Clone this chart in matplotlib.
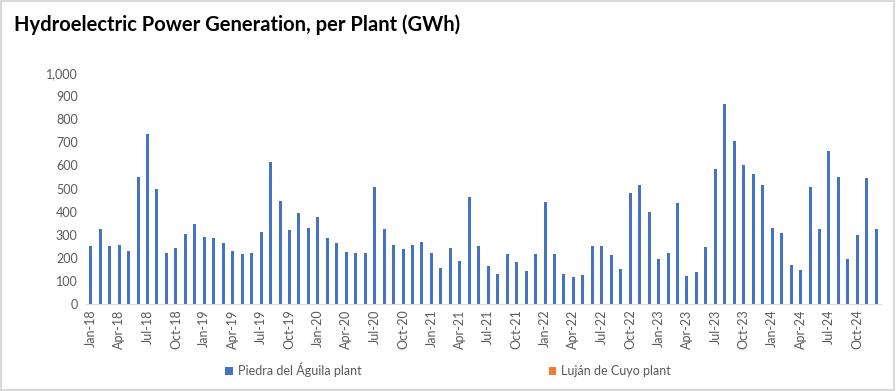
import matplotlib
matplotlib.use("Agg")
import matplotlib.pyplot as plt
from matplotlib.patches import Rectangle
from matplotlib.ticker import FuncFormatter
import numpy as np

plt.rcParams['font.family'] = ['Lato', 'DejaVu Sans']

years = [18, 19, 20, 21, 22, 23, 24]
month_names = ["Jan", "Feb", "Mar", "Apr", "May", "Jun", "Jul", "Aug", "Sep", "Oct", "Nov", "Dec"]
months = [f"{m}-{y}" for y in years for m in month_names]

piedra = [
    250, 326, 252, 257, 231, 550, 737, 499, 222, 244, 304, 345,   # 2018
    291, 287, 266, 231, 215, 222, 310, 613, 447, 320, 395, 329,   # 2019
    377, 284, 266, 224, 219, 219, 508, 326, 257, 237, 257, 268,   # 2020
    221, 157, 242, 186, 465, 250, 166, 131, 215, 183, 144, 215,   # 2021
    442, 215, 128, 118, 125, 252, 252, 212, 152, 479, 515, 400,   # 2022
    196, 219, 436, 123, 139, 248, 583, 864, 707, 600, 563, 515,   # 2023
    329, 307, 170, 149, 505, 326, 662, 550, 196, 299, 544, 326,   # 2024
]
lujan = [0] * len(months)

blue = "#4472C4"
orange = "#ED7D31"

fig = plt.figure(figsize=(8.96, 3.91), dpi=100)
ax = fig.add_axes([86 / 896, 87 / 391, 795 / 896, 231 / 391])

x = np.arange(len(months))
ax.bar(x, piedra, width=0.32, color=blue, label="Piedra del Águila plant", zorder=2)
ax.bar(x, lujan, width=0.32, color=orange, label="Luján de Cuyo plant", zorder=2)

ax.set_xlim(-0.5, len(months) - 0.5)
ax.set_ylim(0, 1000)
ax.set_yticks(np.arange(0, 1001, 100))
ax.yaxis.set_major_formatter(FuncFormatter(lambda v, p: f"{int(v):,}"))
ax.set_xticks(x[::3])
ax.set_xticklabels(months[::3], rotation=90)

for s in ["top", "right", "left"]:
    ax.spines[s].set_visible(False)
ax.spines["bottom"].set_color("#D9D9D9")
ax.tick_params(axis="both", length=0, labelsize=9, colors="#595959")
ax.tick_params(axis="y", pad=6)
ax.tick_params(axis="x", pad=4)

fig.text(14 / 896, 1 - 25 / 391, "Hydroelectric Power Generation, per Plant (GWh)",
         fontsize=14.5, fontweight="bold", color="black", va="center", ha="left")

leg = fig.legend(loc="center", bbox_to_anchor=(0.5, 1 - 370 / 391), ncol=2,
                 frameon=False, fontsize=9, handlelength=0.6, handleheight=0.6,
                 columnspacing=15, handletextpad=0.4)
for t in leg.get_texts():
    t.set_color("#595959")

fig.patches.append(Rectangle((0.001, 0.002), 0.997, 0.996, transform=fig.transFigure,
                             fill=False, edgecolor="#D9D9D9", linewidth=1.5))

fig.savefig("out.png", dpi=100)
